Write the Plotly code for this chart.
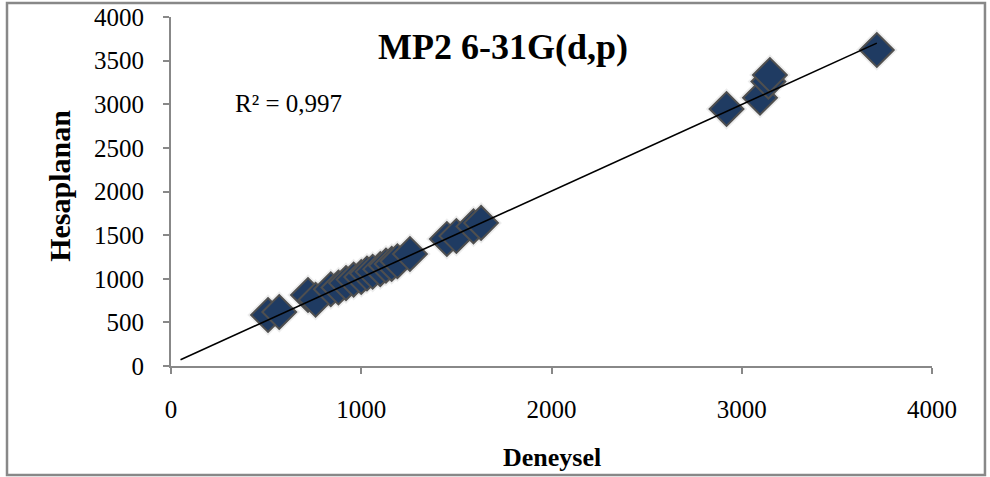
import plotly.graph_objects as go

# Data
deneysel = [510, 569, 720, 760, 840, 880, 920, 960, 1000, 1030, 1060, 1100, 1130,
            1160, 1190, 1256, 1450, 1500, 1590, 1630, 2920, 3096, 3140, 3148, 3710]
hesaplanan = [585, 619, 814, 760, 880, 900, 950, 990, 1020, 1060, 1080, 1110, 1150,
              1170, 1200, 1284, 1456, 1490, 1600, 1640, 2945, 3075, 3260, 3335, 3622]

# Linear trendline (as drawn)
trend_slope = 0.9915
trend_intercept = 22
trend_x = [50, max(deneysel)]
trend_y = [trend_intercept + trend_slope * v for v in trend_x]

x_ticks = [0, 1000, 2000, 3000, 4000]
y_ticks = [0, 500, 1000, 1500, 2000, 2500, 3000, 3500, 4000]

title_text = "MP2 6-31G(d,p)"
r2_text = "R² = 0,997"
x_title = "Deneysel"
y_title = "Hesaplanan"

FONT = "Liberation Serif, Times New Roman, serif"
AX = "#888888"

fig = go.Figure()

# soft halo (shadow-like)
fig.add_trace(go.Scatter(
    x=deneysel, y=hesaplanan, mode="markers",
    marker=dict(symbol="diamond", size=32, color="rgba(0,0,0,0.07)", line=dict(width=0)),
    hoverinfo="skip", showlegend=False))

fig.add_trace(go.Scatter(
    x=deneysel, y=hesaplanan, mode="markers",
    marker=dict(symbol="diamond", size=26, color="#1f3b62",
                line=dict(color="#4f4f4f", width=2)),
    showlegend=False))

fig.add_trace(go.Scatter(
    x=trend_x, y=trend_y, mode="lines",
    line=dict(color="black", width=1.6), showlegend=False))

axis_common = dict(
    showgrid=False, zeroline=False, showline=True, linecolor=AX, linewidth=2,
    ticks="outside", tickcolor=AX, ticklen=6, tickwidth=2,
    tickfont=dict(family=FONT, size=25, color="black"),
    range=[0, 4000], fixedrange=True, automargin=False)

fig.update_xaxes(**axis_common, tickvals=x_ticks, ticklabelstandoff=14)
fig.update_yaxes(**axis_common, tickvals=y_ticks, ticklabelstandoff=14)

# Plot area: x 171..932, y 17..366 px
fig.update_layout(
    width=990, height=477,
    margin=dict(l=171, r=58, t=17, b=111, autoexpand=False),
    paper_bgcolor="white", plot_bgcolor="white",
    font=dict(family=FONT, color="black"),
    annotations=[
        dict(text="<b>" + title_text + "</b>", xref="paper", yref="paper",
             x=0.436, y=0.914, xanchor="center", yanchor="middle", showarrow=False,
             font=dict(family=FONT, size=36, color="black")),
        dict(text=r2_text, xref="paper", yref="paper",
             x=0.154, y=0.751, xanchor="center", yanchor="middle", showarrow=False,
             font=dict(family=FONT, size=25, color="black")),
        dict(text="<b>" + x_title + "</b>", xref="paper", yref="paper",
             x=0.5, y=-0.261, xanchor="center", yanchor="middle", showarrow=False,
             font=dict(family=FONT, size=26, color="black")),
        dict(text="<b>" + y_title + "</b>", xref="paper", yref="paper",
             x=-0.146, y=0.516, xanchor="center", yanchor="middle", showarrow=False,
             textangle=-90, font=dict(family=FONT, size=30, color="black")),
    ],
    shapes=[
        dict(type="rect", xref="paper", yref="paper",
             x0=-0.2155, x1=1.0696, y0=-0.3123, y1=1.040,
             line=dict(color=AX, width=2.5), fillcolor="rgba(0,0,0,0)", layer="below"),
    ],
)

fig.write_html("out.html")
